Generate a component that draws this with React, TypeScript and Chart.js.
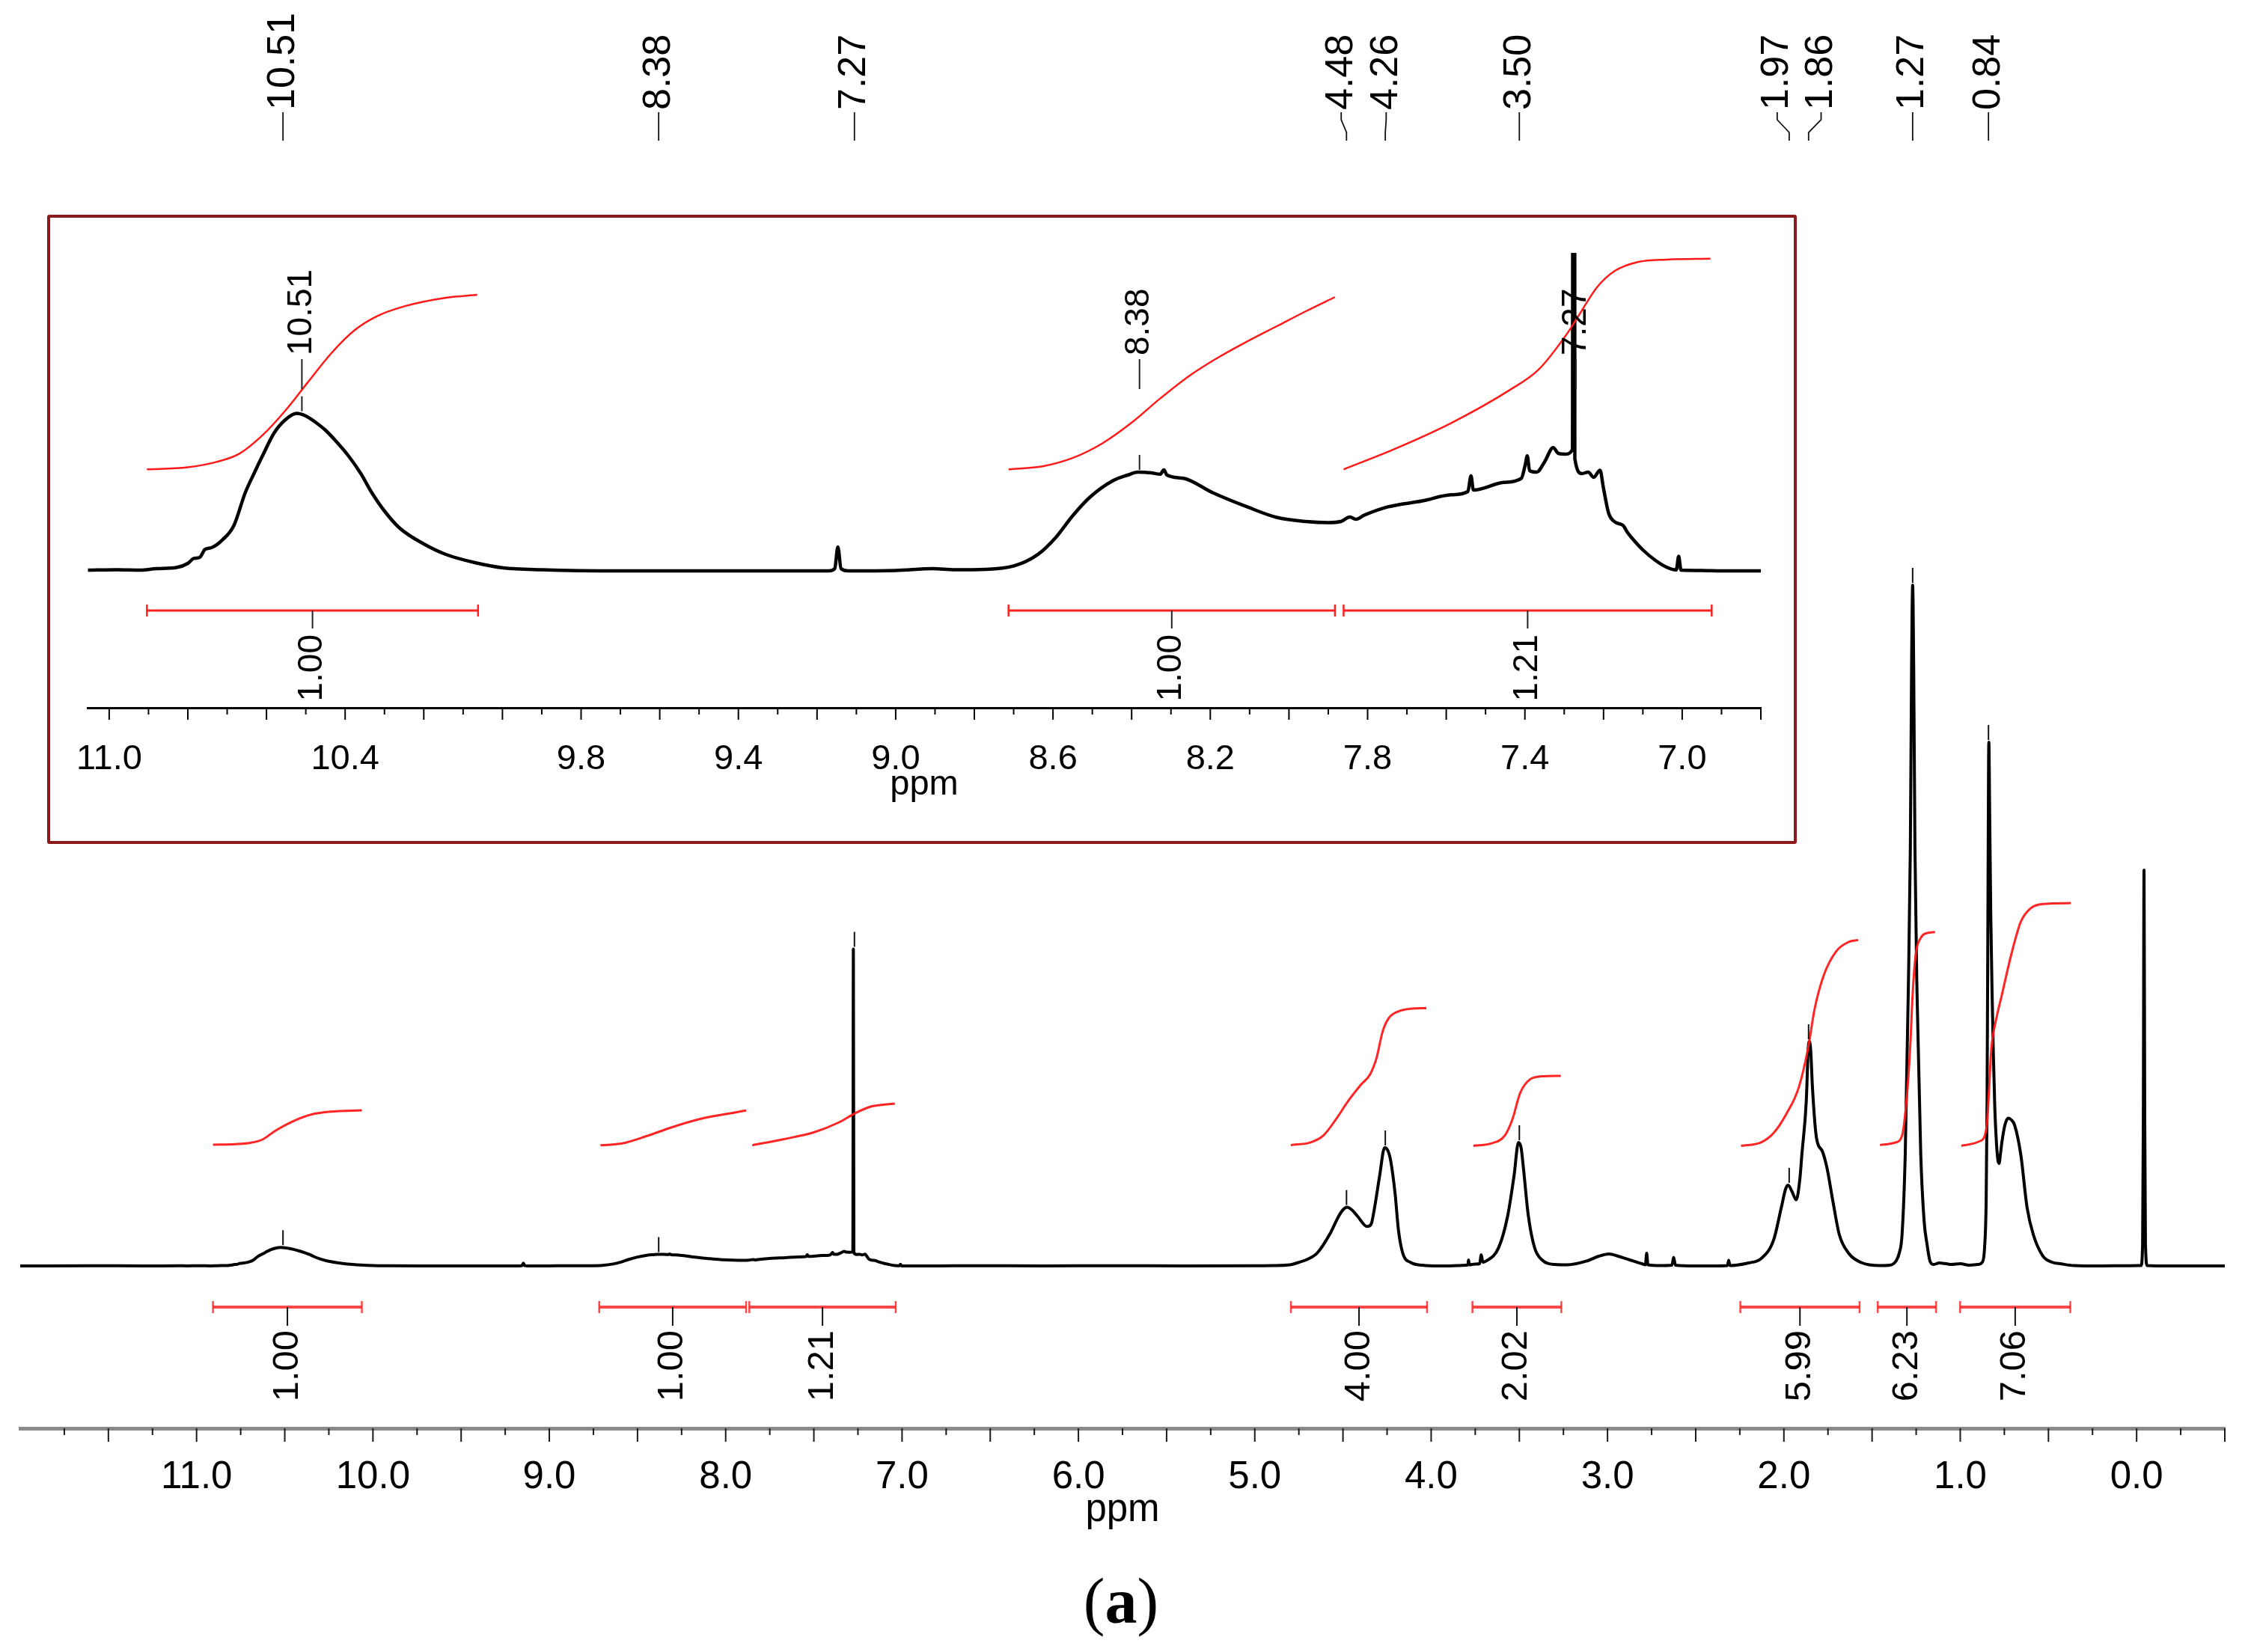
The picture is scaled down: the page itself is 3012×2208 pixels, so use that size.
import React, { useEffect, useRef } from 'react';
import { Chart, registerables } from 'chart.js';

Chart.register(...registerables);

type Pt = [number, number];
type Range = [number, number, string];

// ---------------- DATA ----------------
// Expanded region (inset), intensity in inset units
const insetSpectrum: Pt[] = [
  [11.054, 1], [10.98, 1.5], [10.92, 1], [10.88, 3], [10.829, 4.4], [10.8, 10], [10.785, 16.6], [10.77, 18],
  [10.756, 28.8], [10.74, 31], [10.712, 41.4], [10.683, 60.6], [10.654, 104.5], [10.63, 132], [10.61, 153.9],
  [10.581, 184], [10.552, 202], [10.523, 210.4], [10.5, 207], [10.479, 200], [10.45, 188], [10.421, 172],
  [10.392, 154], [10.36, 130], [10.334, 106], [10.3, 80], [10.261, 57], [10.2, 36], [10.144, 22], [10.07, 11],
  [9.998, 4], [9.9, 1.5], [9.7, 0], [9.4, 0], [9.17, 0], [9.155, 3], [9.147, 32], [9.139, 3], [9.12, 0],
  [9.0, 0.5], [8.905, 3], [8.85, 1.5], [8.772, 2], [8.698, 6.8], [8.638, 22.2], [8.594, 44.1], [8.549, 74.3],
  [8.505, 99], [8.446, 121], [8.41, 128], [8.384, 132], [8.35, 131], [8.327, 129.2], [8.318, 135], [8.31, 128],
  [8.268, 123.7], [8.194, 104.5], [8.105, 85.3], [8.031, 71.5], [7.957, 66], [7.9, 64.5], [7.868, 66],
  [7.845, 72], [7.83, 69], [7.809, 74.3], [7.75, 85.3], [7.661, 93.5], [7.587, 101.7], [7.545, 106],
  [7.537, 127], [7.531, 108], [7.454, 118.2], [7.409, 123.7], [7.399, 142], [7.394, 153.8], [7.388, 134],
  [7.37, 132], [7.35, 145.6], [7.328, 164.8], [7.315, 157], [7.298, 156], [7.279, 162], [7.276, 3600],
  [7.273, 150], [7.255, 130], [7.239, 132], [7.225, 125], [7.209, 134.6], [7.2, 110], [7.187, 77], [7.17, 65],
  [7.15, 60.6], [7.14, 52], [7.128, 44], [7.1, 28], [7.068, 14], [7.04, 5], [7.015, 1.3], [7.009, 19.4],
  [7.003, 1], [6.95, 0.5], [6.9, 0], [6.8, 0],
];
const INSET_GAIN = 8.5; // inset vertical expansion relative to full spectrum

const mainLeftSpectrum: Pt[] = [[12.0, 0], [11.6, 0.3], [11.3, 0], [11.1, 0.2]];
const mainRightSpectrum: Pt[] = [
  [6.6, 0.3], [6.2, 0], [5.8, 0.3], [5.4, 0], [5.0, 0.3], [4.896, 0.5], [4.8, 1.5], [4.754, 4.5], [4.7, 9],
  [4.647, 17], [4.576, 42], [4.523, 67], [4.5, 75], [4.477, 78.4], [4.45, 75], [4.416, 66], [4.363, 52.7],
  [4.34, 56], [4.321, 77.7], [4.292, 120.6], [4.264, 158], [4.245, 154], [4.229, 140], [4.204, 95.6],
  [4.186, 49.1], [4.161, 17], [4.115, 4.5], [4.05, 1], [3.95, 0], [3.85, 0.5], [3.8, 1], [3.792, 1.5],
  [3.788, 8], [3.784, 1.5], [3.75, 2.5], [3.725, 3], [3.716, 15], [3.707, 5], [3.69, 6.3], [3.618, 24.1],
  [3.566, 67], [3.53, 120.6], [3.505, 165], [3.49, 158], [3.477, 131.3], [3.449, 67], [3.413, 24], [3.371, 8],
  [3.3, 2], [3.228, 1.5], [3.122, 6.3], [3.05, 13], [2.991, 16], [2.94, 13], [2.874, 8], [2.8, 2.5],
  [2.785, 1.5], [2.778, 17], [2.771, 1.5], [2.7, 0.5], [2.635, 1], [2.625, 11.6], [2.615, 1], [2.5, 0],
  [2.4, 0], [2.32, 0.5], [2.313, 7.4], [2.306, 0.5], [2.271, 1], [2.2, 4], [2.129, 9.9], [2.058, 34.9],
  [2.015, 77.7], [1.99, 103], [1.976, 108.1], [1.955, 100], [1.93, 88.4], [1.91, 115], [1.898, 149.1],
  [1.873, 220.6], [1.862, 290], [1.855, 300], [1.848, 288], [1.838, 238.4], [1.82, 180], [1.81, 165],
  [1.781, 152.7], [1.756, 131.3], [1.721, 84.9], [1.686, 42], [1.633, 17], [1.561, 4.5], [1.456, 0.5],
  [1.4, 1], [1.366, 6], [1.345, 18], [1.33, 42], [1.312, 149], [1.295, 363], [1.283, 560], [1.276, 800],
  [1.27, 910], [1.264, 800], [1.257, 560], [1.245, 363], [1.224, 149], [1.205, 60], [1.189, 30], [1.171, 6],
  [1.15, 2], [1.12, 4], [1.08, 3], [1.05, 2], [1.0, 3], [0.95, 1], [0.9, 2], [0.875, 5], [0.862, 25],
  [0.853, 90], [0.848, 220], [0.843, 480], [0.838, 700], [0.833, 600], [0.827, 470], [0.82, 370],
  [0.812, 280], [0.804, 210], [0.795, 165], [0.787, 142], [0.78, 137], [0.772, 150], [0.763, 167],
  [0.745, 190], [0.727, 197.4], [0.71, 195], [0.692, 188.4], [0.657, 149.1], [0.621, 77.7], [0.586, 42],
  [0.532, 13.4], [0.48, 5], [0.426, 2.7], [0.355, 0.5], [0.2, 0], [0.05, 0.3], [-0.025, 0.5], [-0.034, 30],
  [-0.038, 200], [-0.042, 529], [-0.046, 200], [-0.05, 30], [-0.06, 0.5], [-0.2, 0], [-0.5, 0],
];

// Integral curves, full spectrum
const mainIntegralCurves: Pt[][] = [
  [[10.907, 162], [10.78, 162.8], [10.696, 164.5], [10.626, 169], [10.556, 180.3], [10.45, 193.7], [10.344, 202.7], [10.239, 206.3], [10.063, 208]],
  [[8.71, 161.3], [8.587, 163.7], [8.446, 173.7], [8.306, 185.3], [8.165, 195.3], [8.025, 202], [7.884, 207.7]],
  [[7.849, 161.3], [7.673, 169.3], [7.498, 178.7], [7.357, 192], [7.269, 203.7], [7.181, 212.7], [7.041, 217]],
  [[4.796, 161.6], [4.683, 165.2], [4.612, 174.1], [4.541, 195.6], [4.47, 220.6], [4.399, 242], [4.346, 256.3], [4.31, 277.7], [4.275, 313.4], [4.24, 331.3], [4.186, 340.2], [4.115, 343.8], [4.027, 344.5]],
  [[3.761, 160.6], [3.654, 164.1], [3.583, 174.1], [3.54, 195.6], [3.495, 231.3], [3.441, 249.1], [3.371, 253.4], [3.265, 254.1]],
  [[2.243, 160.6], [2.129, 165.2], [2.058, 177.7], [1.987, 202.7], [1.916, 238.4], [1.862, 292], [1.827, 342], [1.774, 388.4], [1.703, 420.6], [1.632, 433.1], [1.579, 435.6]],
  [[1.455, 161.6], [1.366, 165.2], [1.33, 174.1], [1.305, 220.6], [1.284, 292], [1.27, 363.4], [1.252, 417], [1.224, 438.4], [1.189, 444.9], [1.143, 446.3]],
  [[0.994, 160.6], [0.887, 167], [0.851, 184.9], [0.823, 292], [0.798, 327.7], [0.763, 363.4], [0.71, 417], [0.657, 459.9], [0.603, 477.7], [0.532, 483.8], [0.373, 484.9]],
];
// Integral curves, inset
const insetIntegralCurves: Pt[][] = [
  [[10.904, 135.7], [10.8, 138.5], [10.727, 145.6], [10.669, 156.6], [10.61, 181.3], [10.552, 214.2], [10.494, 252.6], [10.435, 291], [10.377, 321.2], [10.319, 340.4], [10.246, 354.1], [10.144, 365.1], [10.064, 368.9]],
  [[8.713, 135.7], [8.624, 140.1], [8.549, 151.1], [8.475, 170.3], [8.401, 197.7], [8.327, 230.6], [8.253, 260.8], [8.179, 285.5], [8.105, 307], [8.031, 327], [7.957, 347], [7.883, 366]],
  [[7.861, 135.7], [7.735, 162.1], [7.587, 197.7], [7.439, 241.6], [7.365, 269.1], [7.291, 318.4], [7.261, 343.1], [7.217, 378.8], [7.172, 400.7], [7.113, 412.8], [7.039, 416.1], [6.928, 417.2]],
];

const mainIntegralRanges: Range[] = [
  [10.907, 10.063, '1.00'], [8.717, 7.884, '1.00'], [7.866, 7.036, '1.21'], [4.795, 4.023, '4.00'],
  [3.766, 3.262, '2.02'], [2.247, 1.571, '5.99'], [1.468, 1.137, '6.23'], [1.001, 0.376, '7.06'],
];
const insetIntegralRanges: Range[] = [[10.904, 10.062, '1.00'], [8.713, 7.883, '1.00'], [7.861, 6.925, '1.21']];

const mainPeaks = [10.51, 8.38, 7.27, 4.48, 4.26, 3.5, 1.97, 1.86, 1.27, 0.84];
const mainPeakLabelShift = [0, 0, 0, 0.03, -0.005, 0, 0.068, -0.071, 0, 0];
const insetPeaks = [10.51, 8.38, 7.27];

const mainTickLabels = [11, 10, 9, 8, 7, 6, 5, 4, 3, 2, 1, 0];
const insetTickLabels = [11.0, 10.4, 9.8, 9.4, 9.0, 8.6, 8.2, 7.8, 7.4, 7.0];

// ---------------- helpers ----------------
const SANS = '"Liberation Sans", Arial, Helvetica, sans-serif';
const NARROW = '"Liberation Sans Narrow", "Arial Narrow", "Liberation Sans", Arial, sans-serif';

const mainSpectrum: Pt[] = [
  ...mainLeftSpectrum,
  ...insetSpectrum.map(([x, y]) => [x, Math.min(y / INSET_GAIN, 424)] as Pt),
  ...mainRightSpectrum,
];

const toXY = (pts: Pt[]) => pts.map(([x, y]) => ({ x, y }));
const peakTop = (pts: Pt[], ppm: number, win = 0.02) => {
  let m = -Infinity;
  for (const [x, y] of pts) if (Math.abs(x - ppm) <= win && y > m) m = y;
  return m;
};
const rotText = (ctx: CanvasRenderingContext2D, text: string, x: number, y: number, align: CanvasTextAlign) => {
  ctx.save();
  ctx.translate(x, y);
  ctx.rotate(-Math.PI / 2);
  ctx.textAlign = align;
  ctx.textBaseline = 'middle';
  ctx.fillText(text, 0, 0);
  ctx.restore();
};
const line = (ctx: CanvasRenderingContext2D, pts: number[][]) => {
  ctx.beginPath();
  ctx.moveTo(pts[0][0], pts[0][1]);
  for (let i = 1; i < pts.length; i++) ctx.lineTo(pts[i][0], pts[i][1]);
  ctx.stroke();
};
const isMult = (v: number, step: number) => Math.abs(v / step - Math.round(v / step)) < 1e-6;

// ---------------- plugins ----------------
const mainDecor = {
  id: 'mainDecor',
  afterDraw(chart: any) {
    const { ctx, chartArea } = chart;
    const xs = chart.scales.x, ys = chart.scales.y;
    const base = ys.getPixelForValue(0);
    ctx.save();
    ctx.lineCap = 'butt';
    ctx.strokeStyle = '#1a1a1a';
    ctx.lineWidth = 2;
    for (const t of xs.ticks) {
      const v = t.value;
      if (!isMult(v, 0.25) || v > 11.9) continue;
      const px = xs.getPixelForValue(v);
      line(ctx, [[px, chartArea.bottom], [px, chartArea.bottom + (isMult(v, 0.5) ? 18 : 9)]]);
    }
    ctx.font = `49px ${SANS}`;
    ctx.fillStyle = '#000';
    for (const [a, b, lab] of mainIntegralRanges) {
      const xa = xs.getPixelForValue(a), xb = xs.getPixelForValue(b), xc = xs.getPixelForValue((a + b) / 2);
      const yb = base + 55;
      ctx.strokeStyle = 'rgba(255,40,40,0.85)';
      ctx.lineWidth = 4;
      line(ctx, [[xa, yb], [xb, yb]]);
      ctx.lineWidth = 2.5;
      line(ctx, [[xa, yb - 8], [xa, yb + 8]]);
      line(ctx, [[xb, yb - 8], [xb, yb + 8]]);
      ctx.strokeStyle = '#111';
      ctx.lineWidth = 2;
      line(ctx, [[xc, yb], [xc, yb + 25]]);
      rotText(ctx, lab, xc, yb + 31, 'right');
    }
    ctx.font = `52px ${SANS}`;
    mainPeaks.forEach((p, i) => {
      const top = peakTop(mainSpectrum, p);
      const px = xs.getPixelForValue(p);
      const py = ys.getPixelForValue(top);
      ctx.strokeStyle = '#111';
      ctx.lineWidth = 2;
      line(ctx, [[px, py - 3], [px, py - 23]]);
      const lx = xs.getPixelForValue(p + mainPeakLabelShift[i]);
      ctx.lineWidth = 1.8;
      line(ctx, [[lx, 150], [lx, 160], [px, 177], [px, 188]]);
      rotText(ctx, p.toFixed(2), lx, 147, 'left');
    });
    ctx.restore();
  },
};

const insetDecor = {
  id: 'insetDecor',
  afterDraw(chart: any) {
    const { ctx, chartArea } = chart;
    const xs = chart.scales.x, ys = chart.scales.y;
    const base = ys.getPixelForValue(0);
    ctx.save();
    ctx.strokeStyle = '#000';
    ctx.lineWidth = 2;
    for (const t of xs.ticks) {
      const v = t.value;
      if (!isMult(v, 0.1)) continue;
      const px = xs.getPixelForValue(v);
      line(ctx, [[px, chartArea.bottom], [px, chartArea.bottom + (isMult(v, 0.2) ? 16 : 9)]]);
    }
    ctx.font = `46px ${SANS}`;
    ctx.fillStyle = '#000';
    for (const [a, b, lab] of insetIntegralRanges) {
      const xa = xs.getPixelForValue(a), xb = xs.getPixelForValue(b), xc = xs.getPixelForValue((a + b) / 2);
      const yb = base + 53;
      ctx.strokeStyle = '#ff2020';
      ctx.lineWidth = 3;
      line(ctx, [[xa, yb], [xb, yb]]);
      ctx.lineWidth = 2.5;
      line(ctx, [[xa, yb - 8], [xa, yb + 8]]);
      line(ctx, [[xb, yb - 8], [xb, yb + 8]]);
      ctx.strokeStyle = '#222';
      ctx.lineWidth = 2;
      line(ctx, [[xc, yb], [xc, yb + 24]]);
      rotText(ctx, lab, xc, yb + 32, 'right');
    }
    insetPeaks.forEach((p) => {
      const top = peakTop(insetSpectrum, p);
      const px = xs.getPixelForValue(p);
      ctx.strokeStyle = '#222';
      ctx.lineWidth = 2;
      if (top < ys.max) {
        const py = ys.getPixelForValue(top);
        line(ctx, [[px, py - 3], [px, py - 23]]);
      }
      line(ctx, [[px, base - 283], [px, base - 243]]);
      rotText(ctx, p.toFixed(2), px, base - 288, 'left');
    });
    ctx.restore();
  },
};

const lineDs = (pts: Pt[], color: string, width: number, order: number) => ({
  data: toXY(pts),
  borderColor: color,
  borderWidth: width,
  pointRadius: 0,
  fill: false,
  cubicInterpolationMode: 'monotone',
  borderJoinStyle: 'round',
  order,
});

export default function App() {
  const mainRef = useRef<HTMLCanvasElement>(null);
  const insetRef = useRef<HTMLCanvasElement>(null);

  useEffect(() => {
    const mainChart = new Chart(mainRef.current as HTMLCanvasElement, {
      type: 'line',
      data: {
        datasets: [
          lineDs(mainSpectrum, '#000', 4, 1),
          ...mainIntegralCurves.map((c) => lineDs(c, 'rgba(255,25,25,0.95)', 3, 0)),
        ] as any,
      },
      options: {
        responsive: false,
        animation: false,
        devicePixelRatio: 1,
        events: [],
        layout: { padding: { left: 24, right: 39, top: 200, bottom: 0 } },
        plugins: { legend: { display: false }, tooltip: { enabled: false } },
        scales: {
          x: {
            type: 'linear',
            reverse: true,
            min: -0.5,
            max: 12.0,
            grid: { display: false },
            border: { display: true, color: '#8a8a8a', width: 5 },
            ticks: {
              stepSize: 0.25,
              includeBounds: false,
              maxTicksLimit: 200,
              autoSkip: false,
              maxRotation: 0,
              minRotation: 0,
              padding: 27,
              color: '#000',
              font: { family: NARROW, size: 51 },
              callback: (v: any) => {
                const n = Number(v);
                return mainTickLabels.some((t) => Math.abs(t - n) < 1e-6) ? n.toFixed(1) : '';
              },
            },
            title: {
              display: true,
              text: 'ppm',
              color: '#000',
              font: { family: NARROW, size: 51 },
              padding: { top: 0, bottom: 158 },
            },
            afterFit: (s: any) => { s.height = 299; },
          },
          y: { display: false, min: -217, max: 1492 },
        },
      } as any,
      plugins: [mainDecor],
    });

    const insetChart = new Chart(insetRef.current as HTMLCanvasElement, {
      type: 'line',
      data: {
        datasets: [
          lineDs(insetSpectrum, '#000', 4.5, 1),
          ...insetIntegralCurves.map((c) => lineDs(c, '#ff1a1a', 2.5, 0)),
        ] as any,
      },
      options: {
        responsive: false,
        animation: false,
        devicePixelRatio: 1,
        events: [],
        layout: { padding: { left: 50, right: 44, top: 47, bottom: 0 } },
        plugins: { legend: { display: false }, tooltip: { enabled: false } },
        scales: {
          x: {
            type: 'linear',
            reverse: true,
            min: 6.8,
            max: 11.055,
            grid: { display: false },
            border: { display: true, color: '#000', width: 3 },
            ticks: {
              stepSize: 0.1,
              includeBounds: false,
              maxTicksLimit: 200,
              autoSkip: false,
              maxRotation: 0,
              minRotation: 0,
              padding: 33,
              color: '#000',
              font: { family: NARROW, size: 47 },
              callback: (v: any) => {
                const n = Number(v);
                return insetTickLabels.some((t) => Math.abs(t - n) < 1e-6) ? n.toFixed(1) : '';
              },
            },
            title: {
              display: true,
              text: 'ppm',
              color: '#000',
              font: { family: NARROW, size: 47 },
              padding: { top: 0, bottom: 47 },
            },
            afterFit: (s: any) => { s.height = 178; },
          },
          y: { display: false, min: -183, max: 425 },
        },
      } as any,
      plugins: [insetDecor],
    });

    return () => {
      mainChart.destroy();
      insetChart.destroy();
    };
  }, []);

  return (
    <div style={{ position: 'fixed', left: 0, top: 0, width: 3012, height: 2208, background: '#fff', overflow: 'hidden' }}>
      <canvas ref={mainRef} width={3012} height={2208} style={{ position: 'absolute', left: 0, top: 0, width: 3012, height: 2208 }} />
      <div
        style={{
          position: 'absolute', left: 63, top: 287, width: 2338, height: 841, boxSizing: 'border-box',
          border: '4px solid #8c1a1a', borderRadius: 3, background: '#fff',
        }}
      >
        <canvas ref={insetRef} width={2330} height={833} style={{ position: 'absolute', left: 0, top: 0, width: 2330, height: 833 }} />
      </div>
      <div
        style={{
          position: 'absolute', left: 1398, top: 2090, width: 200, textAlign: 'center',
          fontFamily: '"Liberation Serif", "Times New Roman", serif', fontSize: 86, lineHeight: '100px', color: '#000',
        }}
      >
        (<b>a</b>)
      </div>
    </div>
  );
}
